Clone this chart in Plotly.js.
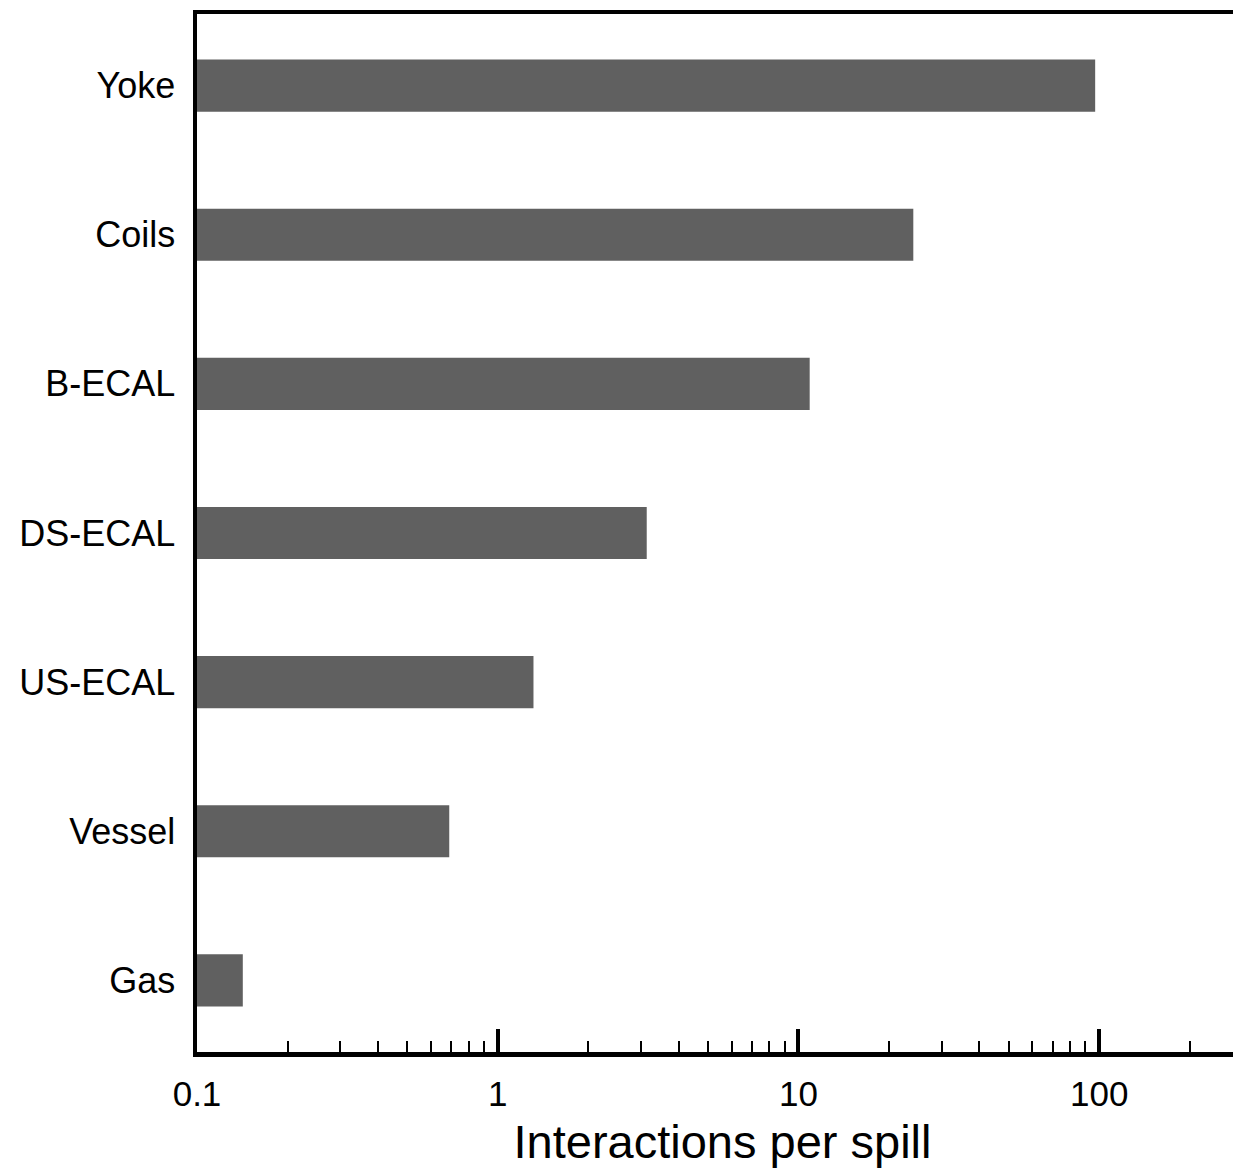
<!DOCTYPE html>
<html>
<head>
<meta charset="utf-8">
<script src="https://cdn.plot.ly/plotly-3.0.1.min.js"></script>
<style>
html, body { margin:0; padding:0; overflow:hidden; background:#fff; }
#chart { width:1248px; height:1173px; }
</style>
</head>
<body>
<div id="chart"></div>
<script>
const categories = ["Gas", "Vessel", "US-ECAL", "DS-ECAL", "B-ECAL", "Coils", "Yoke"];
const interactions = [0.142, 0.69, 1.315, 3.13, 10.9, 24.1, 97];
const tickVals = [0.1, 1, 10, 100];
const tickText = ["0.1", "1", "10", "100"];

const trace = {
  type: "bar",
  orientation: "h",
  y: categories,
  x: interactions,
  width: 0.35,
  marker: { color: "#606060", line: { width: 0 } },
  hoverinfo: "x+y"
};

const layout = {
  width: 1248,
  height: 1173,
  margin: { l: 197, r: 0, t: 14, b: 121 },
  paper_bgcolor: "#ffffff",
  plot_bgcolor: "#ffffff",
  showlegend: false,
  font: { family: "Liberation Sans, Arial, sans-serif", color: "#000" },
  xaxis: {
    type: "log",
    range: [-1, 2.495],
    showgrid: false,
    zeroline: false,
    showline: true,
    linecolor: "#000",
    linewidth: 4.5,
    mirror: true,
    ticks: "inside",
    ticklen: 23,
    tickwidth: 4,
    tickcolor: "#000",
    tickvals: tickVals,
    ticktext: tickText,
    tickfont: { size: 35, color: "#000" },
    ticklabelstandoff: 7,
    minor: { dtick: "D1", ticks: "inside", ticklen: 11, tickwidth: 2, tickcolor: "#000", showgrid: false },
    title: { text: "Interactions per spill", font: { size: 47, color: "#000" }, standoff: 15 }
  },
  yaxis: {
    type: "category",
    range: [-0.48, 6.48],
    showgrid: false,
    zeroline: false,
    showline: true,
    linecolor: "#000",
    linewidth: 4.5,
    ticks: "",
    tickfont: { size: 36, color: "#000" },
    ticklabelstandoff: 10
  }
};

Plotly.newPlot("chart", [trace], layout, { staticPlot: true });
</script>
</body>
</html>
